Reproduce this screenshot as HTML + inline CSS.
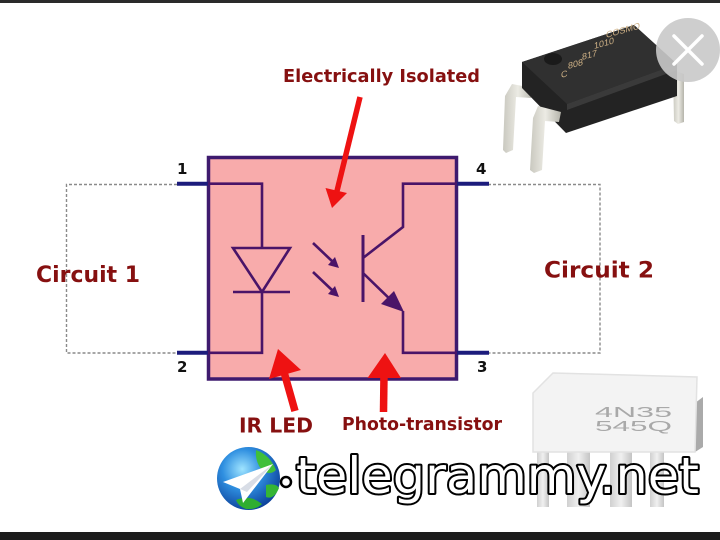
<!DOCTYPE html>
<html><head><meta charset="utf-8"><style>
html,body{margin:0;padding:0;background:#fff;}
svg{display:block;}
</style></head><body>
<svg width="720" height="540" viewBox="0 0 720 540" xmlns="http://www.w3.org/2000/svg">
<defs>
<radialGradient id="gl" cx="40%" cy="35%" r="70%">
<stop offset="0" stop-color="#9fe4ff"/><stop offset="0.45" stop-color="#2f8fe0"/><stop offset="1" stop-color="#0a3c96"/>
</radialGradient>
<linearGradient id="leg" x1="0" x2="1"><stop offset="0" stop-color="#c9c8bf"/><stop offset="0.5" stop-color="#ecebe4"/><stop offset="1" stop-color="#b5b4ab"/></linearGradient>
<linearGradient id="wleg" x1="0" x2="1"><stop offset="0" stop-color="#d0d0d0"/><stop offset="0.5" stop-color="#f0f0f0"/><stop offset="1" stop-color="#c4c4c4"/></linearGradient>
</defs>
<rect width="720" height="540" fill="#fff"/>
<rect x="0" y="0" width="720" height="3" fill="#2a2a2a"/>
<rect x="0" y="532" width="720" height="8" fill="#1c1c1c"/>

<!-- dashed circuits -->
<g fill="none" stroke="#8a8a8a" stroke-width="1.4" stroke-dasharray="3 2">
<path d="M177 184.5 H66.5 V353 H177"/>
<path d="M488 184.5 H600 V353 H488"/>
</g>

<!-- box -->
<rect x="208.5" y="157.5" width="248" height="221.5" fill="#f8abab" stroke="#3e1a6e" stroke-width="3.5"/>

<!-- pins -->
<g stroke="#1c1c7c" stroke-width="4">
<line x1="177" y1="183.7" x2="208" y2="183.7"/>
<line x1="177" y1="352.8" x2="208" y2="352.8"/>
<line x1="457" y1="183.7" x2="489" y2="183.7"/>
<line x1="457" y1="352.8" x2="489" y2="352.8"/>
</g>

<!-- inner circuitry -->
<g fill="none" stroke="#4a1468" stroke-width="2.6">
<path d="M208 183.7 H262 V248"/>
<path d="M233 248 H290 L262 292 Z"/>
<path d="M233 292 H290"/>
<path d="M262 292 V352.8 H208"/>
<path d="M363 235 V302" stroke-width="3"/>
<path d="M363 258 L403 227 V183.7 H457"/>
<path d="M363 273 L396 305"/>
<path d="M403 311 V352.8 H457"/>
<path d="M313 243 L333 262"/>
<path d="M313 272 L333 291"/>
</g>
<g fill="#4a1468">
<polygon points="404,312 381,304 394,291"/>
<polygon points="339,268 328,265 335,257"/>
<polygon points="339,297 328,294 335,286"/>
</g>

<!-- red arrows -->
<g fill="#ee1212" stroke="none">
<line x1="360" y1="97" x2="337" y2="191" stroke="#ee1212" stroke-width="5.5"/>
<polygon points="332,208 325.5,188 347,193"/>
<line x1="295" y1="411" x2="284" y2="372" stroke="#ee1212" stroke-width="7.5"/>
<polygon points="278,349 269,379 301,370"/>
<line x1="383.5" y1="412" x2="384" y2="375" stroke="#ee1212" stroke-width="7.5"/>
<polygon points="385,353 367.5,378 401,378"/>
</g>

<!-- labels -->
<g font-family="'DejaVu Sans','Liberation Sans',sans-serif" font-weight="bold" fill="#861010">
<text x="283" y="82" font-size="17.7" textLength="197" lengthAdjust="spacingAndGlyphs">Electrically Isolated</text>
<text x="36" y="282" font-size="22.5" textLength="104" lengthAdjust="spacingAndGlyphs">Circuit 1</text>
<text x="544" y="277.5" font-size="22.5" textLength="110" lengthAdjust="spacingAndGlyphs">Circuit 2</text>
<text x="239" y="432.5" font-size="20.3" textLength="74" lengthAdjust="spacingAndGlyphs">IR LED</text>
<text x="342" y="430" font-size="17.5" textLength="160" lengthAdjust="spacingAndGlyphs">Photo-transistor</text>
</g>
<g font-family="'DejaVu Sans','Liberation Sans',sans-serif" font-weight="bold" fill="#111" font-size="15">
<text x="177" y="174">1</text>
<text x="476" y="174">4</text>
<text x="177" y="372">2</text>
<text x="477" y="372">3</text>
</g>

<!-- top black chip -->
<g>
<path d="M512 84 L533 88 L531 98 L516 97 L513 150 L506 153 L503 150 L505 96 Z" fill="url(#leg)"/>
<path d="M673 70 L684 74 L684 122 L678 124 L674 121 Z" fill="url(#leg)"/>
<polygon points="522,62 634,25 677,64 677,96 566,133 522,88" fill="#232323"/>
<polygon points="522,62 634,25 677,64 567,104" fill="#303030"/>
<polygon points="567,104 677,64 677,70 567,110" fill="#3a3a3a"/>
<ellipse cx="553" cy="59" rx="9" ry="6" fill="#1a1a1a"/>
<path d="M538 106 L561 112 L559 122 L545 121 L542 170 L534 173 L530 170 L533 118 Z" fill="url(#leg)"/>
<g font-family="'Liberation Sans',sans-serif" fill="#cdb085" font-size="9">
<text transform="matrix(1 -0.28 0 1 606 38)">COSMO</text>
<text transform="matrix(1 -0.28 0 1 594 49)">1010</text>
<text transform="matrix(1 -0.28 0 1 582 60)">817</text>
<text transform="matrix(1 -0.28 0 1 568 69)">808</text>
<text transform="matrix(1 -0.28 0 1 561 78)">C</text>
</g>
</g>

<!-- close button -->
<circle cx="688" cy="50" r="32" fill="#c9c9c9" opacity="0.9"/>
<g stroke="#fff" stroke-width="3.5" stroke-linecap="round">
<line x1="674" y1="36" x2="702" y2="64"/>
<line x1="702" y1="36" x2="674" y2="64"/>
</g>

<!-- white 4N35 chip -->
<g>
<rect x="537" y="450" width="12" height="57" fill="url(#wleg)"/>
<rect x="567" y="450" width="23" height="57" fill="url(#wleg)"/>
<rect x="610" y="450" width="22" height="57" fill="url(#wleg)"/>
<rect x="650" y="450" width="14" height="57" fill="url(#wleg)"/>
<polygon points="695,403 703,397 703,447 695,452" fill="#aaaaaa"/>
<polygon points="553,373 697,377 695,452 533,452 533,393" fill="#f3f3f3" stroke="#e2e2e2" stroke-width="1.5"/>
<g font-family="'Liberation Sans',sans-serif" fill="#a9a9a9" font-size="15">
<text x="595" y="417" textLength="77" lengthAdjust="spacingAndGlyphs">4N35</text>
<text x="595" y="431" textLength="77" lengthAdjust="spacingAndGlyphs">545Q</text>
</g>
</g>

<!-- globe -->
<circle cx="248.5" cy="478.5" r="31.5" fill="url(#gl)"/>
<path d="M256 450 Q270 455 276 470 Q270 476 262 470 Q255 462 256 450 Z" fill="#3fbf3a"/>
<path d="M236 500 Q250 494 262 504 Q256 510 246 509 Q238 506 236 500 Z" fill="#2fae2f"/>
<path d="M266 485 Q276 483 279 488 Q274 500 266 497 Z" fill="#35b535"/>
<polygon points="223,482 273,464 243,503 240,489" fill="#fff"/>
<polygon points="240,489 273,464 247,492" fill="#d8dde6"/>

<!-- watermark -->
<circle cx="286" cy="482" r="5" fill="#fff" stroke="#000" stroke-width="2.5"/>
<text x="296" y="493" font-family="'DejaVu Sans','Liberation Sans',sans-serif" font-size="50" fill="#fff" stroke="#000" stroke-width="4" paint-order="stroke" stroke-linejoin="round" textLength="403" lengthAdjust="spacingAndGlyphs">telegrammy.net</text>
</svg>
</body></html>
